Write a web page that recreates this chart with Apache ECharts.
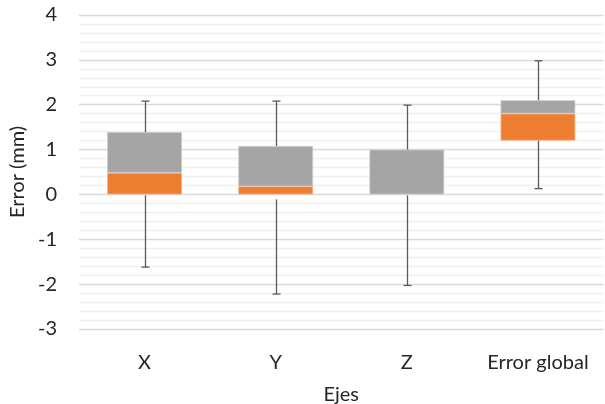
<!DOCTYPE html>
<html><head><meta charset="utf-8">
<script src="https://cdn.jsdelivr.net/npm/echarts@6/dist/echarts.min.js"></script>
<style>html,body{margin:0;padding:0;background:#fff}#c{width:605px;height:404px}</style>
</head><body><div id="c"></div>
<script>
const categories = ['X', 'Y', 'Z', 'Error global'];
// stacked box parts
const boxBase  = [0, 0, 0, 1.2];       // invisible offset
const boxLower = [0.48, 0.18, 0, 0.6]; // orange segment height
const boxUpper = [0.91, 0.9, 1.0, 0.3]; // gray segment height
// whiskers
const whiskerMin = [-1.62, -2.22, -2.03, 0.13];
const whiskerLowStart = [-0.02, -0.11, -0.02, 1.2];
const whiskerMax = [2.08, 2.08, 1.99, 2.98];
const yTicks = [-3, -2, -1, 0, 1, 2, 3, 4];

const FONT = 'Lato';
const chart = echarts.init(document.getElementById('c'), null, {renderer: 'canvas'});

const boxTop = categories.map((c, i) => boxBase[i] + boxLower[i] + boxUpper[i]);
const whiskerData = categories.map((c, i) => [i, whiskerMin[i], whiskerLowStart[i], boxTop[i], whiskerMax[i]]);
const nz = arr => arr.map(v => (v === 0 ? '-' : v));

function renderWhisker(params, api) {
  const i = api.value(0);
  const pMin = api.coord([i, api.value(1)]);
  const pLs = api.coord([i, api.value(2)]);
  const pTop = api.coord([i, api.value(3)]);
  const pMax = api.coord([i, api.value(4)]);
  const x = Math.round(pMin[0]) + 0.5;
  const cap = 4;
  const st = {stroke: '#595959', lineWidth: 1.3};
  return {
    type: 'group',
    children: [
      {type: 'line', shape: {x1: x, y1: pLs[1], x2: x, y2: pMin[1]}, style: st},
      {type: 'line', shape: {x1: x - cap, y1: pMin[1], x2: x + cap, y2: pMin[1]}, style: st},
      {type: 'line', shape: {x1: x, y1: pTop[1], x2: x, y2: pMax[1]}, style: st},
      {type: 'line', shape: {x1: x - cap, y1: pMax[1], x2: x + cap, y2: pMax[1]}, style: st}
    ]
  };
}

chart.setOption({
  animation: false,
  backgroundColor: '#fff',
  textStyle: {fontFamily: FONT},
  grid: {left: 79, right: 1.5, top: 15, bottom: 75, containLabel: false, outerBoundsMode: 'none'},
  xAxis: {
    type: 'category',
    data: categories,
    axisLine: {show: false},
    axisTick: {show: false},
    axisLabel: {color: '#262626', fontSize: 20, fontFamily: FONT, margin: 24, interval: 0, hideOverlap: false},
    name: 'Ejes',
    nameLocation: 'middle',
    nameGap: 56,
    nameTextStyle: {color: '#262626', fontSize: 20, fontFamily: FONT}
  },
  yAxis: {
    type: 'value',
    min: yTicks[0],
    max: yTicks[yTicks.length - 1],
    interval: 1,
    axisLine: {show: false},
    axisTick: {show: false},
    axisLabel: {color: '#262626', fontSize: 20, fontFamily: FONT, margin: 22},
    splitLine: {show: true, lineStyle: {color: '#D9D9D9', width: 1.3}},
    minorTick: {show: false, splitNumber: 5},
    minorSplitLine: {show: true, lineStyle: {color: '#F0F0F0', width: 1.3}},
    name: 'Error (mm)',
    nameLocation: 'middle',
    nameGap: 41,
    nameTextStyle: {color: '#262626', fontSize: 20, fontFamily: FONT}
  },
  series: [
    {type: 'bar', stack: 'b', data: boxBase, barWidth: '57%', itemStyle: {color: 'transparent'}, silent: true},
    {type: 'bar', stack: 'b', data: nz(boxLower), barWidth: '57%', itemStyle: {color: '#ED7D31', borderColor: '#F4B183', borderWidth: 0.8}},
    {type: 'bar', stack: 'b', data: nz(boxUpper), barWidth: '57%', itemStyle: {color: '#A5A5A5', borderColor: '#C9C9C9', borderWidth: 0.8}},
    {type: 'custom', data: whiskerData, renderItem: renderWhisker, encode: {x: 0, y: [1, 4]}, z: 5}
  ]
});
</script></body></html>
